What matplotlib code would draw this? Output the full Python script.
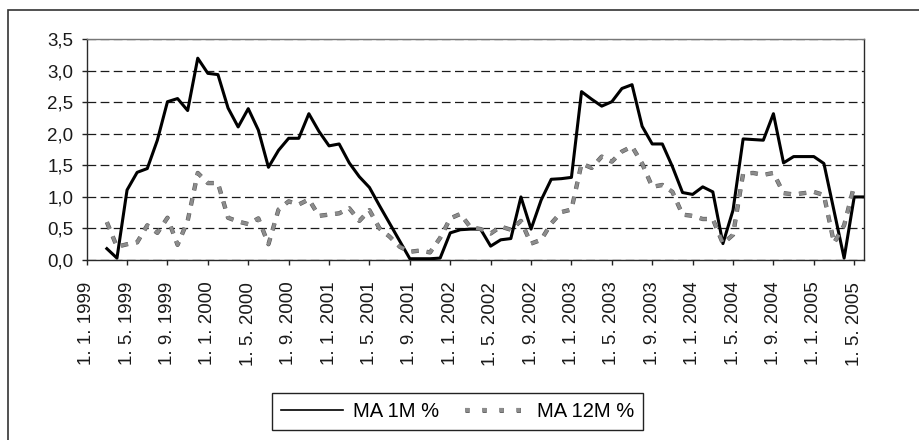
import matplotlib
matplotlib.use('Agg')
import matplotlib.pyplot as plt
import matplotlib.patheffects as pe
from matplotlib.lines import Line2D
from matplotlib.patches import Rectangle
from matplotlib.ticker import FuncFormatter

plt.rcParams['font.family'] = ['Liberation Sans', 'DejaVu Sans']

# months counted from 1. 1. 1999 (= 0)
months_1m = list(range(2, 78))
ma_1m = [0.18, 0.03, 1.11, 1.39, 1.45, 1.90, 2.51, 2.56, 2.37, 3.20,
         2.96, 2.94, 2.41, 2.11, 2.40, 2.06, 1.47, 1.74, 1.93, 1.93,
         2.32, 2.04, 1.81, 1.84, 1.54, 1.32, 1.15, 0.86, 0.58, 0.30,
         0.02, 0.02, 0.02, 0.03, 0.43, 0.48, 0.49, 0.49, 0.22, 0.32,
         0.34, 1.00, 0.49, 0.95, 1.28, 1.29, 1.31, 2.67, 2.55, 2.44,
         2.51, 2.72, 2.78, 2.12, 1.84, 1.84, 1.48, 1.07, 1.04, 1.16,
         1.08, 0.26, 0.79, 1.92, 1.91, 1.90, 2.32, 1.54, 1.64, 1.64,
         1.64, 1.53, 0.78, 0.03, 1.00, 1.00]

months_12m = list(range(2, 77))
ma_12m = [0.60, 0.21, 0.25, 0.28, 0.55, 0.43, 0.67, 0.24, 0.62, 1.38,
          1.22, 1.22, 0.67, 0.61, 0.57, 0.66, 0.25, 0.80, 0.93, 0.88,
          0.96, 0.70, 0.72, 0.74, 0.82, 0.62, 0.79, 0.50, 0.37, 0.21,
          0.13, 0.15, 0.12, 0.35, 0.66, 0.73, 0.52, 0.49, 0.42, 0.53,
          0.48, 0.62, 0.26, 0.32, 0.58, 0.76, 0.80, 1.53, 1.46, 1.64,
          1.56, 1.72, 1.80, 1.53, 1.16, 1.19, 1.08, 0.72, 0.70, 0.65,
          0.65, 0.26, 0.40, 1.37, 1.38, 1.35, 1.38, 1.06, 1.04, 1.06,
          1.08, 1.03, 0.27, 0.55, 1.18]

tick_months = list(range(0, 77, 4))
tick_labels = ['1. %d. %d' % (1 + (m % 12), 1999 + m // 12) for m in tick_months]

fig = plt.figure(figsize=(9.19, 4.40), dpi=100)
ax = fig.add_axes([0.0943, 0.4091, 0.8462, 0.5016])

ax.set_axisbelow(True)
ax.yaxis.grid(True, color='#1a1a1a', lw=0.9, linestyle=(0, (7, 3.5)))

ax.plot(months_1m, ma_1m, color='black', lw=2.2, zorder=3)
ax.plot(months_12m, ma_12m, color='#8c8c8c', lw=2.3, linestyle=(0, (2.3, 2.5)),
        dash_capstyle='butt', zorder=4,
        path_effects=[pe.Stroke(linewidth=3.1, foreground='#555555'), pe.Normal()])

ax.set_xlim(0, 77)
ax.set_ylim(0, 3.5)
ax.set_yticks([0, 0.5, 1.0, 1.5, 2.0, 2.5, 3.0, 3.5])
ax.yaxis.set_major_formatter(FuncFormatter(lambda v, p: ('%.1f' % v).replace('.', ',')))
ax.set_xticks(tick_months)
ax.set_xticklabels(tick_labels, rotation=90, va='top', ha='center')

ax.tick_params(axis='both', direction='out', length=3.6, width=1, color='#222222',
               labelsize=13.5, labelcolor='#1a1a1a')
ax.tick_params(axis='y', pad=6)
ax.tick_params(axis='x', pad=12)

for side in ['left', 'bottom', 'right']:
    ax.spines[side].set_color('#2a2a2a')
    ax.spines[side].set_linewidth(1.0)
ax.spines['top'].set_color('#777777')
ax.spines['top'].set_linewidth(1.0)

handles = [
    Line2D([], [], color='black', lw=1.2),
    Line2D([], [], color='#8c8c8c', lw=3, linestyle=(0, (1, 3.1)), dash_capstyle='butt',
           path_effects=[pe.Stroke(linewidth=3.6, foreground='#666666'), pe.Normal()]),
]
leg = fig.legend(handles, ['MA 1M %', 'MA 12M %'], loc='center',
                 bbox_to_anchor=(457.6 / 919, 1 - 411.8 / 440), ncol=2,
                 fontsize=14.5, frameon=True, fancybox=False, framealpha=1,
                 handlelength=3.05, handletextpad=0.5, columnspacing=1.3,
                 borderpad=0.45)
leg.get_frame().set_edgecolor('#222222')
leg.get_frame().set_linewidth(1.0)

# outer chart frame (only top and left edges are visible in the crop)
fig.add_artist(Rectangle((8 / 919, -0.05), 1.0, 1.05 - 10 / 440, transform=fig.transFigure,
                         fill=False, ec='#333333', lw=1.2))

fig.savefig('out.png', dpi=100)
